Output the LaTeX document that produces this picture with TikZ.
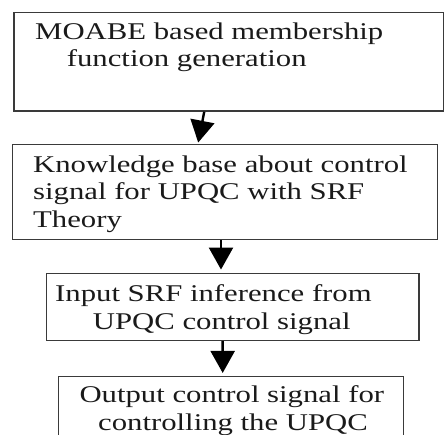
\documentclass[tikz,border=0pt]{standalone}
\usepackage{fontspec}
\usetikzlibrary{arrows.meta}
\newfontfamily\flowfont[FakeStretch=1.28]{Liberation Serif}
\definecolor{Frame}{HTML}{3A3A3A}
\definecolor{Ink}{HTML}{1A1A1A}
\tikzset{
  flowbox/.style={
    rectangle, draw=Frame, line width=1.5pt, inner sep=0pt
  },
  flowtext/.style={
    anchor=base west, align=left, inner sep=0pt, text=Ink,
    font=\flowfont\fontsize{24pt}{27.6pt}\selectfont
  },
  flowarrow/.style={-{Triangle[length=22pt,width=24pt]}, black, line width=2.4pt},
}

\begin{document}
\begin{tikzpicture}[x=1pt, y=-1pt]
    \useasboundingbox (0,0) rectangle (445,435);
    \clip (0,0) rectangle (445,435);
    % boxes
    \node[flowbox, minimum width=429.5pt, minimum height=98.3pt] (B1) at (228.75,61.85) {};
    \node[flowbox, minimum width=425pt, minimum height=94.6pt] (B2) at (225.2,192) {};
    \node[flowbox, minimum width=372.3pt, minimum height=67pt] (B3) at (232.85,306.8) {};
    \node[flowbox, minimum width=345pt, minimum height=80pt] (B4) at (230.8,416.7) {};
    % texts (placed by the baseline of their last line)
    \node[flowtext] (T1) at (35,66.7) {MOABE based membership\\\hspace*{31.7pt}function generation};
    \node[flowtext] (T2) at (33,227.3) {Knowledge base about control\\signal for UPQC with SRF\\Theory};
    \node[flowtext] (T3) at (55,329.3) {Input SRF inference from\\\hspace*{37.7pt}UPQC control signal};
    \node[flowtext] (T4) at (79.3,430.5) {Output control signal for\\\hspace*{18.7pt}controlling the UPQC};
    % arrows
    \draw[flowarrow] ([xshift=-24.5pt]B1.south) -- ([xshift=-27pt,yshift=1.4pt]B2.north);
    \draw[flowarrow] ([xshift=-4.2pt]B2.south) -- ([xshift=-11.85pt,yshift=3pt]B3.north);
    \draw[flowarrow] ([xshift=-10.2pt]B3.south) -- ([xshift=-8.1pt,yshift=3pt]B4.north);
\end{tikzpicture}
\end{document}
